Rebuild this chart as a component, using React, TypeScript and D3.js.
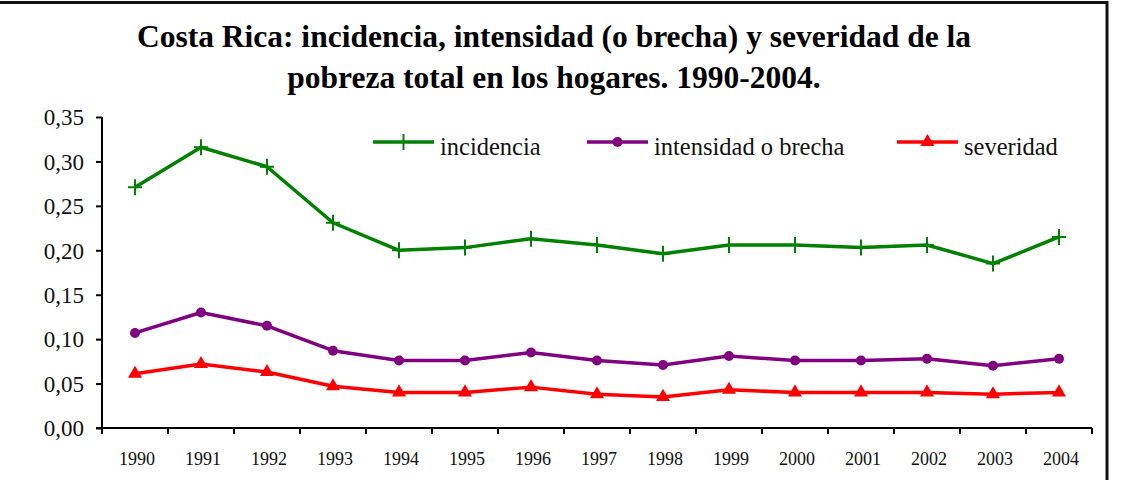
import React, { useEffect, useRef } from 'react';
import * as d3 from 'd3';

const years = ['1990', '1991', '1992', '1993', '1994', '1995', '1996', '1997', '1998', '1999', '2000', '2001', '2002', '2003', '2004'];
const incidencia = [0.271, 0.316, 0.294, 0.231, 0.200, 0.203, 0.213, 0.206, 0.196, 0.206, 0.206, 0.203, 0.206, 0.185, 0.215];
const intensidad = [0.107, 0.130, 0.115, 0.087, 0.076, 0.076, 0.085, 0.076, 0.071, 0.081, 0.076, 0.076, 0.078, 0.070, 0.078];
const severidad = [0.061, 0.072, 0.063, 0.047, 0.040, 0.040, 0.046, 0.038, 0.035, 0.043, 0.040, 0.040, 0.040, 0.038, 0.040];
const yTicks = [0, 0.05, 0.1, 0.15, 0.2, 0.25, 0.3, 0.35];

const titleLines = [
  'Costa Rica: incidencia, intensidad (o brecha) y severidad de la',
  'pobreza total en los hogares. 1990-2004.',
];

type Marker = 'plus' | 'circle' | 'triangle';

const seriesList: { name: string; values: number[]; color: string; marker: Marker }[] = [
  { name: 'incidencia', values: incidencia, color: '#008000', marker: 'plus' },
  { name: 'intensidad o brecha', values: intensidad, color: '#800080', marker: 'circle' },
  { name: 'severidad', values: severidad, color: '#ff0000', marker: 'triangle' },
];

const FONT = '"Liberation Serif", "Times New Roman", serif';
const W = 1125;
const H = 480;

const esLocale = d3.formatLocale({ decimal: ',', thousands: '.', grouping: [3], currency: ['', ''] });
const fmt = esLocale.format('.2f');

function drawMarker(g: d3.Selection<SVGGElement, unknown, null, undefined>, kind: Marker, x: number, y: number, color: string) {
  if (kind === 'plus') {
    g.append('path')
      .attr('d', `M${x - 7},${y}H${x + 7}M${x},${y - 8}V${y + 8}`)
      .attr('stroke', color)
      .attr('stroke-width', 2)
      .attr('fill', 'none');
  } else if (kind === 'circle') {
    g.append('circle').attr('cx', x).attr('cy', y).attr('r', 5).attr('fill', color);
  } else {
    g.append('path')
      .attr('d', d3.symbol(d3.symbolTriangle, 85)())
      .attr('transform', `translate(${x},${y})`)
      .attr('fill', color);
  }
}

const App: React.FC = () => {
  const svgRef = useRef<SVGSVGElement>(null);

  useEffect(() => {
    if (!svgRef.current) return;
    const svg = d3.select(svgRef.current);
    svg.selectAll('*').remove();

    const plot = { left: 102, right: 1092, top: 117, bottom: 428 };

    const x = d3.scaleBand<string>().domain(years).range([plot.left, plot.right]);
    const y = d3.scaleLinear().domain([0, 0.35]).range([plot.bottom, plot.top]);

    // frame (only top and right edges are visible)
    svg.append('path')
      .attr('d', `M0,2.5H${1107}V${H}`)
      .attr('fill', 'none')
      .attr('stroke', '#111')
      .attr('stroke-width', 3);

    // title
    const title = svg.append('text')
      .attr('text-anchor', 'middle')
      .attr('font-family', FONT)
      .attr('font-weight', 'bold')
      .attr('font-size', 31.5)
      .attr('fill', '#000');
    titleLines.forEach((line, i) => {
      title.append('tspan').attr('x', 554).attr('y', 47 + i * 41).text(line);
    });

    // y axis
    const yAxis = svg.append('g')
      .attr('transform', `translate(${plot.left},0)`)
      .call(d3.axisLeft(y).tickValues(yTicks).tickFormat(d => fmt(d as number)).tickSize(6).tickPadding(12));
    yAxis.select('.domain').attr('stroke', '#000').attr('stroke-width', 2).attr('d', `M0,${plot.top}V${plot.bottom}`);
    yAxis.selectAll('.tick line').attr('stroke', '#000').attr('stroke-width', 2);
    yAxis.selectAll('.tick text')
      .attr('font-family', FONT)
      .attr('font-size', 23)
      .attr('fill', '#111')
      .attr('dy', '0.34em');

    // x axis
    const xAxis = svg.append('g')
      .attr('transform', `translate(0,${plot.bottom})`)
      .call(d3.axisBottom(x).tickSize(0).tickPadding(0));
    xAxis.select('.domain').attr('stroke', '#000').attr('stroke-width', 2).attr('d', `M${plot.left - 6},0H${plot.right}`);
    xAxis.selectAll('.tick text')
      .attr('font-family', FONT)
      .attr('font-size', 18)
      .attr('fill', '#111')
      .attr('y', 37)
      .attr('dy', 0)
      .attr('dx', 2);
    const boundaries = years.map(d => x(d) as number).concat([plot.right]);
    xAxis.selectAll('line.sep')
      .data(boundaries)
      .join('line')
      .attr('class', 'sep')
      .attr('x1', d => d)
      .attr('x2', d => d)
      .attr('y1', 0)
      .attr('y2', 6)
      .attr('stroke', '#000')
      .attr('stroke-width', 2);

    // series lines and markers
    const cx = (i: number) => (x(years[i]) as number) + x.bandwidth() / 2;
    seriesList.forEach(s => {
      const line = d3.line<number>().x((_, i) => cx(i)).y(v => y(v));
      svg.append('path')
        .datum(s.values)
        .attr('d', line)
        .attr('fill', 'none')
        .attr('stroke', s.color)
        .attr('stroke-width', 3.5)
        .attr('stroke-linejoin', 'round');
      const mg = svg.append('g');
      s.values.forEach((v, i) => drawMarker(mg, s.marker, cx(i), y(v), s.color));
    });

    // legend
    const legendX = [373, 587, 897];
    const legendY = 142;
    seriesList.forEach((s, i) => {
      const lg = svg.append('g');
      lg.append('line')
        .attr('x1', legendX[i])
        .attr('x2', legendX[i] + 61)
        .attr('y1', legendY)
        .attr('y2', legendY)
        .attr('stroke', s.color)
        .attr('stroke-width', 3.5);
      drawMarker(lg, s.marker, legendX[i] + 30.5, legendY, s.color);
      lg.append('text')
        .attr('x', legendX[i] + 67)
        .attr('y', legendY + 13)
        .attr('font-family', FONT)
        .attr('font-size', 24.5)
        .attr('fill', '#111')
        .text(s.name);
    });
  }, []);

  return (
    <div style={{ position: 'absolute', left: 0, top: 0, width: W, height: H, background: '#fff' }}>
      <svg ref={svgRef} width={W} height={H} viewBox={`0 0 ${W} ${H}`} style={{ display: 'block' }} />
    </div>
  );
};

export default App;
